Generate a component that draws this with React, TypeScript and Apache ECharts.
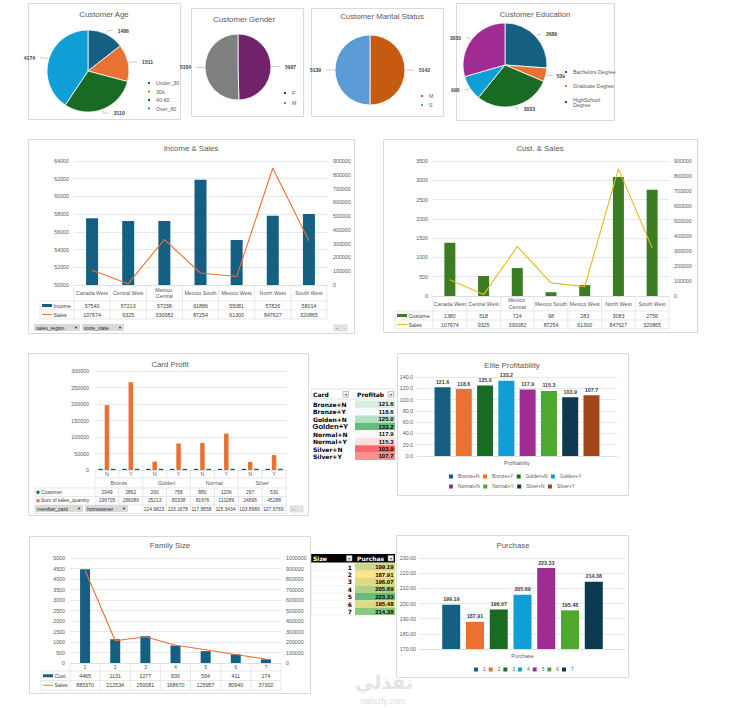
import React, { useEffect, useRef } from "react";
import * as echarts from "echarts";

// ---------------- data ----------------
const ageNames = ["Under_30", "30s", "40-60", "Over_60"];
const ageValues = [1486, 1511, 3110, 4174];
const genderNames = ["F", "M"];
const genderValues = [5097, 5184];
const maritalNames = ["M", "S"];
const maritalValues = [5142, 5139];
const eduNames = ["Bachelors Degree", "Graduate Degree", "HighSchool Degree", "Partial College", "Partial High School"];
const eduValues = [2689, 539, 3033, 990, 3030];

const regions = ["Canada West", "Central West", "Mexico Central", "Mexico South", "Mexico West", "North West", "South West"];
const regionIncome = [57540, 57213, 57238, 61886, 55081, 57826, 58014];
const regionSales = [107674, 9325, 330082, 87254, 61300, 847627, 320865];
const regionCustomers = [1380, 518, 724, 98, 283, 3083, 2756];

const cardGroups = ["Bronze", "Golden", "Normal", "Silver"];
const homeowner = ["N", "Y", "N", "Y", "N", "Y", "N", "Y"];
const cardCustomers = [2049, 2862, 260, 758, 880, 1206, 297, 530];
const cardSalesQty = [196705, 266086, 25213, 80338, 81976, 110289, 24695, 45288];
const cardProfitability = [121.6223851, 118.5620282, 124.9823803, 133.1678206, 117.8558083, 115.3434783, 103.8989899, 107.6769596];
const cardLabels = ["Bronze+N", "Bronze+Y", "Golden+N", "Golden+Y", "Normal+N", "Normal+Y", "Silver+N", "Silver+Y"];
const eliteCategory = ["Profitability"];

const familySizes = ["1", "2", "3", "4", "5", "6", "7"];
const familyCustomers = [4465, 1131, 1277, 830, 564, 411, 174];
const familySales = [883370, 212534, 250081, 168670, 125957, 80940, 37302];
const familyPurchase = [199.19, 187.91, 196.07, 205.69, 223.33, 195.48, 214.38];
const purchaseCategory = ["Purchase"];

// axis ticks: [min, max, interval]
const incomeTicks = [50000, 64000, 2000];
const incomeSalesTicks = [0, 900000, 100000];
const custTicks = [0, 3500, 500];
const custSalesTicks = [0, 900000, 100000];
const cardTicks = [0, 300000, 50000];
const eliteTicks = [0, 140, 20];
const familyTicks = [0, 5000, 500];
const familySalesTicks = [0, 1000000, 100000];
const purchaseTicks = [170, 230, 10];

// ---------------- styles ----------------
const FONT = "'Liberation Sans', Arial, sans-serif";
const AX = "#595959";
const GL = "#D9D9D9";
const THEME = ["#156082", "#E97132", "#196B24", "#0F9ED5", "#A02B93", "#4EA72E", "#0E3A4F", "#A2461A"];
const GENDER_COLORS = ["#70226A", "#7F7F7F"];
const MARITAL_COLORS = ["#C55A11", "#5B9BD5"];
const CUST_GREEN = "#3B7D23";
const GOLD = "#E5B915";
const FS = 5.3;

function T(x: number, y: number, text: string, st: any = {}, z = 50): any {
  return {
    type: "text", x, y, z, silent: true,
    style: { text, fontSize: FS, fontFamily: FONT, fill: "#404040", align: "center", verticalAlign: "middle", ...st },
  };
}
function L(x1: number, y1: number, x2: number, y2: number, stroke = GL, w = 0.6, z = 49): any {
  return { type: "line", z, silent: true, shape: { x1, y1, x2, y2 }, style: { stroke, lineWidth: w } };
}
function R(x: number, y: number, w: number, h: number, fill: string, stroke?: string, z = 48): any {
  return {
    type: "rect", z, silent: true, shape: { x, y, width: w, height: h },
    style: { fill, stroke: stroke || "none", lineWidth: stroke ? 0.6 : 0 },
  };
}

function hex(c: string) {
  return [1, 3, 5].map((i) => parseInt(c.slice(i, i + 2), 16));
}
function mix(a: string, b: string, t: number) {
  const A = hex(a), B = hex(b);
  const t2 = Math.max(0, Math.min(1, t));
  return "rgb(" + A.map((v, i) => Math.round(v + (B[i] - v) * t2)).join(",") + ")";
}

function dataTable(o: any): any[] {
  const out: any[] = [];
  const cw = o.gw / o.n;
  const yEnd = o.headerBottom + o.rows.length * o.rowH;
  const fs = o.fontSize || FS;
  out.push(L(o.x0, o.headerBottom, o.gx + o.gw, o.headerBottom));
  o.rows.forEach((_r: any, i: number) => out.push(L(o.x0, o.headerBottom + (i + 1) * o.rowH, o.gx + o.gw, o.headerBottom + (i + 1) * o.rowH)));
  out.push(L(o.x0, o.headerBottom, o.x0, yEnd));
  for (let k = 0; k <= o.n; k++) {
    const x = o.gx + k * cw;
    if (o.oddGap && k % 2 === 1) {
      out.push(L(x, o.yTop, x, o.oddGap[0]));
      out.push(L(x, o.oddGap[1], x, yEnd));
    } else out.push(L(x, o.yTop, x, yEnd));
  }
  if (o.oddGap) out.push(L(o.gx, o.oddGap[0], o.gx + o.gw, o.oddGap[0]));
  o.rows.forEach((r: any, i: number) => {
    const cy = o.headerBottom + (i + 0.5) * o.rowH;
    if (r.key === "bar") out.push(R(o.x0 + 2, cy - 1.5, 10, 3, r.color, undefined, 50));
    else if (r.key === "line") out.push(L(o.x0 + 2, cy, o.x0 + 12, cy, r.color, 1, 50));
    else out.push(R(o.x0 + 1.5, cy - 1.5, 3, 3, r.color, undefined, 50));
    const tx = r.key === "square" ? o.x0 + 6 : o.x0 + 13.5;
    if (!r.hidden)
      out.push(T(tx, cy, r.name, { fontSize: fs, align: "left", width: o.gx - tx - 1, overflow: "truncate", ellipsis: "" }));
    r.values.forEach((v: any, k: number) => {
      const x0 = o.gx + k * cw;
      if (r.hiddenUntil !== undefined && x0 < r.hiddenUntil) return;
      if (r.truncate)
        out.push(T(x0 + 1, cy, String(v), { fontSize: fs, align: "left", width: cw - 2, overflow: "truncate", ellipsis: "" }));
      else out.push(T(x0 + cw / 2, cy, String(v), { fontSize: fs }));
    });
  });
  return out;
}

function button(x: number, y: number, w: number, label: string): any[] {
  return [
    R(x, y, w, 7, "#D9D9D9", undefined, 60),
    T(x + 2, y + 3.6, label, { align: "left", fontSize: 5, fill: "#262626" }, 61),
    T(x + w - 4, y + 3.6, "\u25BC", { fontSize: 4, fill: "#262626" }, 61),
  ];
}
function plusMinus(x: number, y: number): any[] {
  return [
    R(x, y, 6, 6, "#E8E8E8", "#C8C8C8", 60),
    T(x + 3, y + 3, "+", { fontSize: 5, fill: "#8C8C8C" }, 61),
    R(x + 7, y, 6, 6, "#E8E8E8", "#C8C8C8", 60),
    T(x + 10, y + 3, "-", { fontSize: 5, fill: "#8C8C8C" }, 61),
  ];
}

function catAxis(gridIndex: number, data: string[], margin: number, extra: any = {}): any {
  return {
    type: "category", gridIndex, data, position: "bottom", offset: 0,
    axisLine: { show: extra.hideLine ? false : true, lineStyle: { color: GL, width: 0.6 } },
    axisTick: { show: false },
    splitLine: { show: false },
    axisLabel: {
      interval: 0, fontSize: FS, color: AX, fontFamily: FONT, margin,
      verticalAlign: "middle", lineHeight: 6.5, width: 33, overflow: "break",
      ...(extra.label || {}),
    },
  };
}
function valAxis(gridIndex: number, ticks: number[], extra: any = {}): any {
  return {
    type: "value", gridIndex, min: ticks[0], max: ticks[1], interval: ticks[2],
    position: extra.right ? "right" : "left",
    axisLine: { show: false }, axisTick: { show: false },
    splitLine: { show: !extra.right, lineStyle: { color: GL, width: 0.6 } },
    axisLabel: {
      fontSize: FS, color: AX, fontFamily: FONT, margin: extra.margin ?? 5,
      formatter: extra.fmt ? extra.fmt : (v: number) => String(v),
    },
  };
}

function buildOption(): any {
  const g: any[] = [];

  // panel frames
  const panels = [
    [28.5, 3.5, 152, 116], [191.5, 8.5, 112, 108], [311.5, 8.5, 132, 108], [456.5, 3.5, 158, 117],
    [28.5, 139.5, 326, 194], [383.5, 139.5, 314, 193],
    [28.5, 353.5, 280, 162], [397.5, 353.5, 231, 142],
    [29.5, 536.5, 281, 157], [396.5, 535.5, 232, 142],
  ];
  panels.forEach(([x, y, w, h]) =>
    g.push({ type: "rect", z: 1, silent: true, shape: { x, y, width: w, height: h }, style: { fill: "none", stroke: GL, lineWidth: 1 } })
  );

  // titles
  const titles: [string, number, number][] = [
    ["Customer Age", 104, 14], ["Customer Gender", 244, 19], ["Customer Marital Status", 382, 16],
    ["Customer Education", 535, 14], ["Income & Sales", 191, 148], ["Cust. & Sales", 540, 148],
    ["Card Profit", 170, 364], ["Elite Profitability", 512, 365], ["Family Size", 170, 545], ["Purchase", 513, 545],
  ];
  titles.forEach(([t, x, y]) => g.push(T(x, y, t, { fontSize: 7.8, fill: "#595959" })));

  // data tables
  g.push(...dataTable({
    x0: 40, gx: 74, gw: 253, n: 7, yTop: 285, headerBottom: 301, rowH: 9,
    rows: [
      { name: "Income", key: "bar", color: THEME[0], values: regionIncome },
      { name: "Sales", key: "line", color: THEME[1], values: regionSales },
    ],
  }));
  g.push(...dataTable({
    x0: 395, gx: 433, gw: 236, n: 7, yTop: 296, headerBottom: 311, rowH: 9,
    rows: [
      { name: "Customer", key: "bar", color: CUST_GREEN, values: regionCustomers },
      { name: "Sales", key: "line", color: GOLD, values: regionSales },
    ],
  }));
  g.push(...dataTable({
    x0: 35, gx: 95, gw: 191, n: 8, yTop: 470, headerBottom: 488, rowH: 8.5, oddGap: [478, 488], fontSize: 4.9,
    rows: [
      { name: "Customer", key: "square", color: THEME[0], values: cardCustomers },
      { name: "Sum of sales_quantity", key: "square", color: THEME[1], values: cardSalesQty },
      { name: "Average of Profitability", key: "square", color: THEME[2], values: cardProfitability, truncate: true, hidden: true, hiddenUntil: 130 },
    ],
  }));
  g.push(...dataTable({
    x0: 41, gx: 70, gw: 211, n: 7, yTop: 663, headerBottom: 671, rowH: 9.5,
    rows: [
      { name: "Cust.", key: "bar", color: THEME[0], values: familyCustomers },
      { name: "Sales", key: "line", color: THEME[1], values: familySales },
    ],
  }));

  // filter buttons
  g.push(...button(34, 324, 46, "sales_region"), ...button(82, 324, 42, "store_state"), ...plusMinus(334, 325));
  g.push(...button(35, 505, 48, "member_card"), ...button(85, 505, 43, "homeowner"), ...plusMinus(290, 506));

  // Card / Profitability pivot table
  const cMin = Math.min(...cardProfitability), cMax = Math.max(...cardProfitability);
  const sorted = [...cardProfitability].sort((a, b) => a - b);
  const cMid = (sorted[3] + sorted[4]) / 2;
  const cardColor = (v: number) =>
    v < cMid ? mix("#F8696B", "#FCFCFF", (v - cMin) / (cMid - cMin)) : mix("#FCFCFF", "#63BE7B", (v - cMid) / (cMax - cMid));
  const tb = { fontFamily: "'DejaVu Sans', sans-serif", fontWeight: "bold", fontSize: 6, fill: "#000", align: "left" };
  g.push(R(311, 389, 84, 10, "#FFFFFF", "#D0D0D0"));
  g.push(T(313, 394.5, "Card", tb));
  g.push(R(343, 391.5, 5.5, 5.5, "#F4F4F4", "#9A9A9A", 50), T(345.8, 394.3, "\u25BE", { fontSize: 4, fill: "#333" }, 51));
  g.push(T(357, 394.5, "Profitability", { ...tb, width: 30, overflow: "truncate", ellipsis: "" }));
  g.push(R(388, 391.5, 5.5, 5.5, "#F4F4F4", "#9A9A9A", 50), T(390.8, 394.3, "\u25BE", { fontSize: 4, fill: "#333" }, 51));
  cardLabels.forEach((lab, i) => {
    const y = 400.5 + i * 7.45;
    const cy = y + 3.8;
    g.push(R(355, y, 40, 7.45, cardColor(cardProfitability[i])));
    if (i === 3)
      g.push(T(312.5, cy, lab, { fontFamily: FONT, fontWeight: "bold", fontSize: 7.6, fill: "#000", align: "left", width: 42, overflow: "truncate", ellipsis: "" }));
    else g.push(T(313, cy, lab, tb));
    g.push(T(393.5, cy, cardProfitability[i].toFixed(1), { fontFamily: FONT, fontWeight: "bold", fontSize: 6, fill: "#000", align: "right" }));
  });

  // Size / Purchase pivot table
  const pMin = Math.min(...familyPurchase), pMax = Math.max(...familyPurchase);
  const sizeColor = (v: number) => mix("#FFE38A", "#63BE7B", (v - pMin) / (pMax - pMin));
  g.push(R(311, 554, 84, 8.5, "#000000"));
  g.push(T(313, 558.4, "Size", { ...tb, fill: "#FFFFFF" }));
  g.push(R(346.5, 555.5, 5.5, 5.5, "#F4F4F4", "#9A9A9A", 50), T(349.3, 558.2, "\u25BE", { fontSize: 4, fill: "#333" }, 51));
  g.push(T(357, 558.4, "Purchase", { ...tb, fill: "#FFFFFF", width: 30, overflow: "truncate", ellipsis: "" }));
  g.push(R(388, 555.5, 5.5, 5.5, "#F4F4F4", "#9A9A9A", 50), T(390.8, 558.2, "\u25BE", { fontSize: 4, fill: "#333" }, 51));
  familySizes.forEach((s, i) => {
    const y = 563.3 + i * 7.4;
    const cy = y + 3.8;
    g.push(R(355, y, 40, 7.4, sizeColor(familyPurchase[i])));
    g.push(T(352, cy, s, { ...tb, align: "right" }));
    g.push(T(393.5, cy, familyPurchase[i].toFixed(2), { fontFamily: FONT, fontWeight: "bold", fontSize: 6, fill: "#000", align: "right" }));
    g.push(L(311, y + 7.4, 355, y + 7.4, "#EDEDED", 0.5));
  });
  g.push(L(311, 554, 311, 615.5, "#D0D0D0", 0.6));

  // watermark
  g.push(T(384, 682, "\u0646\u0641\u0630\u0644\u064A", { fontFamily: "'DejaVu Sans', sans-serif", fontSize: 19, fontWeight: "bold", fill: "#E4E4E4" }, 5));
  g.push(T(383, 701, "nafezly.com", { fontSize: 8.5, fill: "#DCDCDC" }, 5));

  // ----- pies -----
  const pieCommon: any = {
    type: "pie", startAngle: 90, clockwise: true, avoidLabelOverlap: true,
    label: { show: true, formatter: "{c}", fontSize: 5, fontWeight: "bold", color: "#404040", fontFamily: FONT },
    labelLine: { show: true, length: 4, length2: 5, lineStyle: { color: "#A6A6A6", width: 0.6 } },
    itemStyle: { borderColor: "#fff", borderWidth: 0.8 },
    emphasis: { disabled: true },
  };
  const pieData = (names: string[], vals: number[], colors: string[]) =>
    names.map((n, i) => ({ name: n, value: vals[i], itemStyle: { color: colors[i] } }));

  const series: any[] = [
    { ...pieCommon, name: "Customer Age", center: [88, 71], radius: 41, data: pieData(ageNames, ageValues, THEME) },
    { ...pieCommon, name: "Customer Gender", center: [238, 67], radius: 33, data: pieData(genderNames, genderValues, GENDER_COLORS) },
    { ...pieCommon, name: "Customer Marital Status", center: [370, 70], radius: 35, data: pieData(maritalNames, maritalValues, MARITAL_COLORS) },
    {
      ...pieCommon, name: "Customer Education", center: [505, 65], radius: 42, data: pieData(eduNames, eduValues, THEME),
      labelLine: { show: true, length: 3, length2: 3, lineStyle: { color: "#A6A6A6", width: 0.6 } },
    },
  ];

  // ----- cartesian -----
  series.push(
    { type: "bar", name: "Income", xAxisIndex: 0, yAxisIndex: 0, data: regionIncome, barWidth: 12, itemStyle: { color: THEME[0] } },
    { type: "line", name: "Sales", xAxisIndex: 0, yAxisIndex: 1, data: regionSales, symbol: "none", lineStyle: { color: THEME[1], width: 1.1 }, itemStyle: { color: THEME[1] } },
    { type: "bar", name: "Customer", xAxisIndex: 1, yAxisIndex: 2, data: regionCustomers, barWidth: 11, itemStyle: { color: CUST_GREEN } },
    { type: "line", name: "Sales", xAxisIndex: 1, yAxisIndex: 3, data: regionSales, symbol: "none", lineStyle: { color: GOLD, width: 1.1 }, itemStyle: { color: GOLD } },
    { type: "bar", name: "Customer", xAxisIndex: 2, yAxisIndex: 4, data: cardCustomers, barWidth: 4.5, barGap: "40%", barMinHeight: 1.2, itemStyle: { color: THEME[0] } },
    { type: "bar", name: "Sum of sales_quantity", xAxisIndex: 2, yAxisIndex: 4, data: cardSalesQty, barWidth: 4.5, barGap: "40%", itemStyle: { color: THEME[1] } },
    { type: "bar", name: "Average of Profitability", xAxisIndex: 2, yAxisIndex: 4, data: cardProfitability, barWidth: 4.5, barGap: "40%", barMinHeight: 1.2, itemStyle: { color: THEME[2] } },
    { type: "bar", name: "Cust.", xAxisIndex: 5, yAxisIndex: 6, data: familyCustomers, barWidth: 10, itemStyle: { color: THEME[0] } },
    { type: "line", name: "Sales", xAxisIndex: 5, yAxisIndex: 7, data: familySales, symbol: "none", lineStyle: { color: THEME[1], width: 1.1 }, itemStyle: { color: THEME[1] } },
  );
  const barLabel = (digits: number) => ({
    show: true, position: "top", distance: 3, fontSize: 5.3, fontWeight: "bold", color: "#404040", fontFamily: FONT,
    formatter: (p: any) => Number(p.value).toFixed(digits),
  });
  cardLabels.forEach((n, i) =>
    series.push({ type: "bar", name: n, xAxisIndex: 4, yAxisIndex: 5, data: [cardProfitability[i]], barWidth: 16, barGap: "33%", itemStyle: { color: THEME[i] }, label: barLabel(1) })
  );
  familySizes.forEach((n, i) =>
    series.push({ type: "bar", name: n, xAxisIndex: 6, yAxisIndex: 8, data: [familyPurchase[i]], barWidth: 18, barGap: "32%", itemStyle: { color: THEME[i] }, label: barLabel(2) })
  );

  const legendBase: any = {
    orient: "vertical", icon: "rect", itemWidth: 4, itemHeight: 4, selectedMode: false, padding: 0,
    textStyle: { fontSize: FS, color: AX, fontFamily: FONT },
  };
  const smallLegendText = { fontSize: 4.8, color: AX, fontFamily: FONT };

  return {
    animation: false,
    backgroundColor: "#FFFFFF",
    textStyle: { fontFamily: FONT },
    grid: [
      { left: 74, top: 161, width: 253, height: 124 },
      { left: 433, top: 161, width: 236, height: 135 },
      { left: 95, top: 371, width: 191, height: 99 },
      { left: 417, top: 377, width: 200, height: 79 },
      { left: 70, top: 558, width: 211, height: 105 },
      { left: 420, top: 558, width: 205, height: 91 },
    ],
    xAxis: [
      catAxis(0, regions, 8),
      catAxis(1, regions, 7.5),
      catAxis(2, homeowner, 4),
      catAxis(2, cardGroups, 13, { hideLine: true }),
      catAxis(3, eliteCategory, 7, { label: { width: 60 } }),
      catAxis(4, familySizes, 4),
      catAxis(5, purchaseCategory, 7, { label: { width: 60 } }),
    ],
    yAxis: [
      valAxis(0, incomeTicks),
      valAxis(0, incomeSalesTicks, { right: true, margin: 6 }),
      valAxis(1, custTicks),
      valAxis(1, custSalesTicks, { right: true, margin: 5 }),
      valAxis(2, cardTicks, { margin: 6 }),
      valAxis(3, eliteTicks, { margin: 4, fmt: (v: number) => v.toFixed(1) }),
      valAxis(4, familyTicks),
      valAxis(4, familySalesTicks, { right: true, margin: 5 }),
      valAxis(5, purchaseTicks, { margin: 4, fmt: (v: number) => v.toFixed(2) }),
    ],
    legend: [
      { ...legendBase, data: ageNames, left: 146, top: 80, itemGap: 2.5 },
      { ...legendBase, data: genderNames, left: 282, top: 90, itemGap: 4 },
      { ...legendBase, data: maritalNames.map((n, i) => ({ name: n, itemStyle: { color: MARITAL_COLORS[i] } })), left: 419, top: 93, itemGap: 3 },
      { ...legendBase, data: eduNames.slice(0, 3), left: 563, top: 69, itemGap: 8, formatter: (n: string) => n.replace("HighSchool ", "HighSchool\n") },
      { ...legendBase, orient: "horizontal", data: cardLabels.slice(0, 4), left: 449, top: 474, itemGap: 3.5, textStyle: smallLegendText },
      { ...legendBase, orient: "horizontal", data: cardLabels.slice(4), left: 449, top: 484, itemGap: 3.5, textStyle: smallLegendText },
      { ...legendBase, orient: "horizontal", data: familySizes, left: 474, top: 667, itemGap: 3, textStyle: smallLegendText },
    ],
    series,
    graphic: { elements: g },
  };
}

export default function App() {
  const ref = useRef<HTMLDivElement>(null);
  useEffect(() => {
    if (!ref.current) return;
    const chart = echarts.init(ref.current, undefined, { renderer: "svg" });
    chart.setOption(buildOption());
    return () => chart.dispose();
  }, []);
  return (
    <div
      ref={ref}
      style={{ position: "absolute", left: 0, top: 0, width: 742, height: 708, background: "#fff" }}
    />
  );
}
